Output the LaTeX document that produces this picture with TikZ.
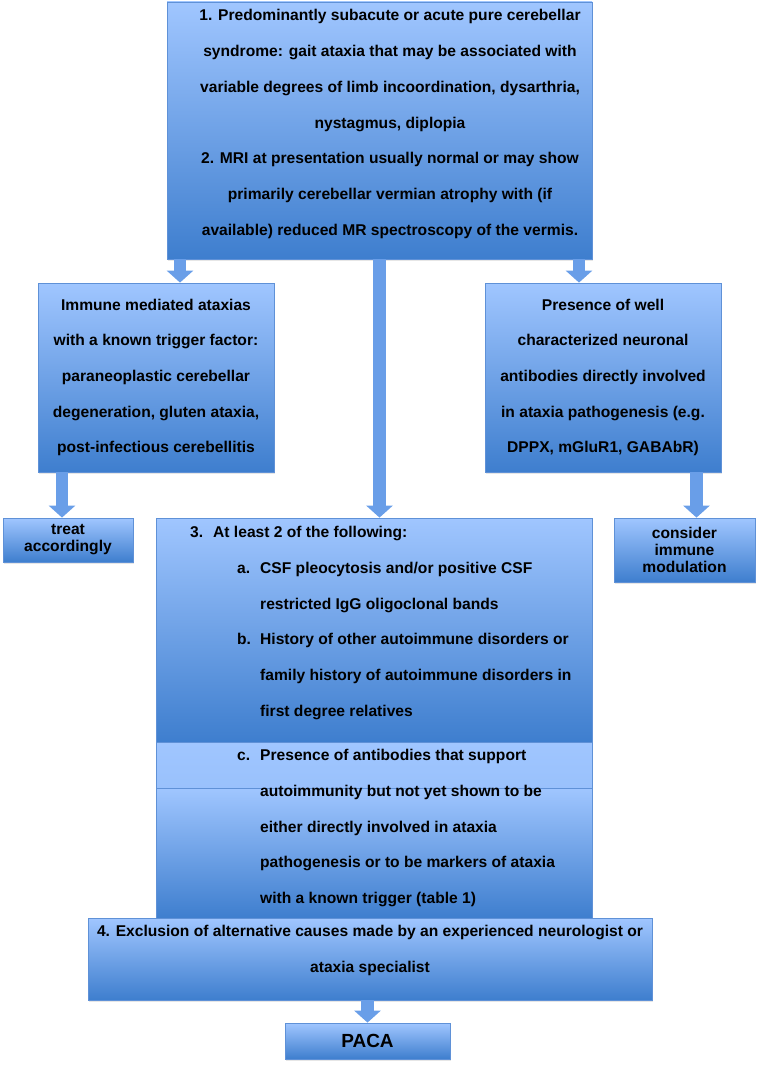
\documentclass[tikz,border=0pt]{standalone}
\usepackage{fontspec}
\setmainfont{Liberation Sans}
\usetikzlibrary{arrows.meta,shadows}
\definecolor{boxtop}{RGB}{160,198,255}
\definecolor{boxbot}{RGB}{62,126,206}
\definecolor{boxline}{RGB}{95,145,215}
\definecolor{arrowblue}{RGB}{105,158,232}
\begin{document}
\begin{tikzpicture}[x=1pt, y=-1pt,
    box/.style={rectangle, draw=boxline, line width=0.8pt, top color=boxtop, bottom color=boxbot, inner sep=0pt,
      drop shadow={shadow xshift=1pt, shadow yshift=-2pt, opacity=0.2}},
    txt/.style={inner sep=0pt, font=\fontsize{15.6}{35.7}\selectfont\bfseries, align=center},
    smalltxt/.style={txt, font=\fontsize{15.6}{17}\selectfont\bfseries},
    barrow/.style={draw=arrowblue, line width=12.5pt, -{Triangle[width=26pt, length=12pt]}}]
    \useasboundingbox (0,0) rectangle (759,1065);
    \node[box, minimum width=425pt, minimum height=257pt] (crit12) at (379.5,130.5) {};
    \node[box, minimum width=236pt, minimum height=189pt] (immune) at (156,377.5) {};
    \node[box, minimum width=236pt, minimum height=189pt] (antib) at (603,377.5) {};
    \node[box, minimum width=130pt, minimum height=44pt] (treat) at (68,540) {};
    \node[box, minimum width=141pt, minimum height=64pt] (immod) at (684.5,550) {};
    \node[box, minimum width=436pt, minimum height=224pt] (crit3) at (374,630) {};
    \node[box, minimum width=436pt, minimum height=130pt] (critlow) at (374,853) {};
    \node[rectangle, draw=boxline, line width=0.8pt, top color=boxtop, bottom color=boxtop!93!boxbot,
      minimum width=436pt, minimum height=46pt] (critc) at (374,765) {};
    \node[box, minimum width=564pt, minimum height=82pt] (crit4) at (370,959) {};
    \node[box, minimum width=165pt, minimum height=36pt] (paca) at (367.5,1041) {};

    \draw[barrow] ([xshift=24pt]immune.north |- crit12.south) -- ([xshift=24pt]immune.north);
    \draw[barrow] ([xshift=-24pt]antib.north |- crit12.south) -- ([xshift=-24pt]antib.north);
    \draw[barrow] (crit12.south) -- (crit12.south |- crit3.north);
    \draw[barrow] ([xshift=-6pt]treat.north |- immune.south) -- ([xshift=-6pt]treat.north);
    \draw[barrow] ([xshift=12pt]immod.north |- antib.south) -- ([xshift=12pt]immod.north);
    \draw[barrow] (crit4.south -| paca.north) -- (paca.north);

    \node[txt] (crit12txt) at (390,124) {1. Predominantly subacute or acute pure cerebellar\\
      syndrome: gait ataxia that may be associated with\\
      variable degrees of limb incoordination, dysarthria,\\
      nystagmus, diplopia\\
      2. MRI at presentation usually normal or may show\\
      primarily cerebellar vermian atrophy with (if\\
      available) reduced MR spectroscopy of the vermis.};
    \node[txt] (immunetxt) at (immune.center) {Immune mediated ataxias\\
      with a known trigger factor:\\
      paraneoplastic cerebellar\\
      degeneration, gluten ataxia,\\
      post-infectious cerebellitis};
    \node[txt] (antibtxt) at (antib.center) {Presence of well\\
      characterized neuronal\\
      antibodies directly involved\\
      in ataxia pathogenesis (e.g.\\
      DPPX, mGluR1, GABAbR)};
    \node[smalltxt] (treattxt) at (treat.center) {treat\\ accordingly};
    \node[smalltxt] (immodtxt) at (immod.center) {consider\\ immune\\ modulation};
    \node[txt, align=left, anchor=west] (crit3txt) at (190,623) {\makebox[23pt][l]{3.}At least 2 of the following:\\
      \hspace*{47pt}\makebox[23pt][l]{a.}CSF pleocytosis and/or positive CSF\\
      \hspace*{70pt}restricted IgG oligoclonal bands\\
      \hspace*{47pt}\makebox[23pt][l]{b.}History of other autoimmune disorders or\\
      \hspace*{70pt}family history of autoimmune disorders in\\
      \hspace*{70pt}first degree relatives};
    \node[txt, align=left, anchor=west] (critctxt) at (237,828) {\makebox[23pt][l]{c.}Presence of antibodies that support\\
      \hspace*{23pt}autoimmunity but not yet shown to be\\
      \hspace*{23pt}either directly involved in ataxia\\
      \hspace*{23pt}pathogenesis or to be markers of ataxia\\
      \hspace*{23pt}with a known trigger (table 1)};
    \node[txt] (crit4txt) at (370,950.5) {4. Exclusion of alternative causes made by an experienced neurologist or\\
      ataxia specialist};
    \node[txt, font=\fontsize{19}{22}\selectfont\bfseries] (pacatxt) at (paca.center) {PACA};
\end{tikzpicture}
\end{document}
